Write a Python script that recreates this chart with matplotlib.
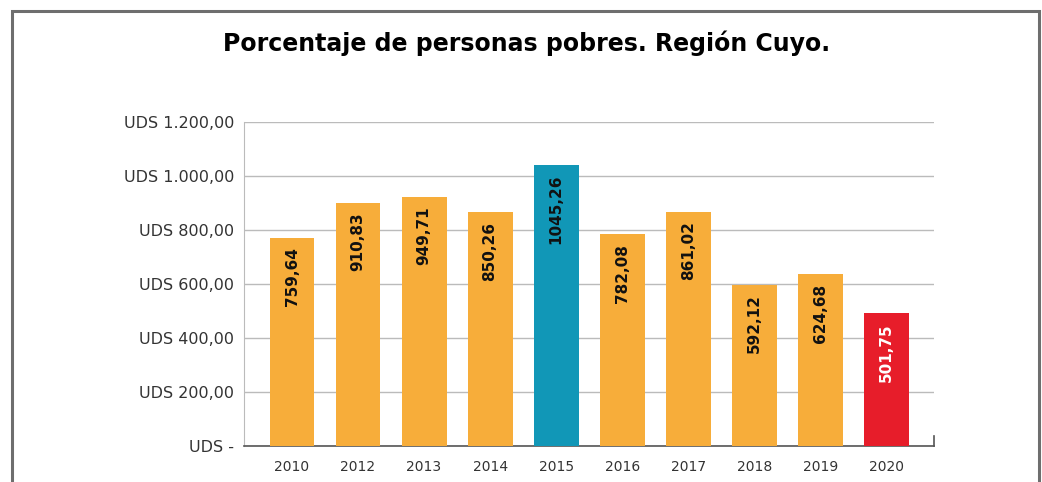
import matplotlib
matplotlib.use("Agg")
import matplotlib.pyplot as plt
from matplotlib.patches import Rectangle

years = ["2010", "2012", "2013", "2014", "2015", "2016", "2017", "2018", "2019", "2020"]
bar_heights = [770, 900, 921, 866, 1040, 784, 866, 596, 637, 490]
value_labels = ["759,64", "910,83", "949,71", "850,26", "1045,26", "782,08", "861,02", "592,12", "624,68", "501,75"]
bar_colors = ["#F7AD3A"] * 4 + ["#1197B7"] + ["#F7AD3A"] * 4 + ["#E71D2A"]
label_colors = ["#111111"] * 9 + ["#FFFFFF"]
y_ticks = [0, 200, 400, 600, 800, 1000, 1200]
y_tick_labels = ["UDS -", "UDS 200,00", "UDS 400,00", "UDS 600,00", "UDS 800,00", "UDS 1.000,00", "UDS 1.200,00"]
title = "Porcentaje de personas pobres. Región Cuyo."

plt.rcParams['font.family'] = ['DejaVu Sans']

fig = plt.figure(figsize=(10.42, 4.82), dpi=100)
W, H = 1042, 482

# outer frame
fig.patches.append(Rectangle((11.5 / W, -0.1), (1039 - 11.5) / W, 1.1 - 10.5 / H + 0.0,
                             transform=fig.transFigure, fill=False, edgecolor="#6E6E6E",
                             linewidth=2.2, zorder=0))

ax = fig.add_axes([244 / W, (H - 445.7) / H, (934 - 244) / W, (445.7 - 121.7) / H])
x = list(range(len(years)))
bars = ax.bar(x, bar_heights, width=0.68, color=bar_colors, zorder=3)

for xi, h, lab, c in zip(x, bar_heights, value_labels, label_colors):
    ax.annotate(lab, (xi, h), xytext=(0, -7), textcoords="offset points",
                rotation=90, ha="center", va="top", fontsize=11, fontweight="bold",
                color=c, zorder=4)

ax.set_xlim(-0.727, 9.723)
ax.set_ylim(0, 1200)
ax.set_yticks(y_ticks)
ax.set_yticklabels(y_tick_labels, fontsize=11.5, color="#333333")
ax.set_xticks(x)
ax.set_xticklabels(years, fontsize=10, color="#333333")
ax.tick_params(axis="y", length=0, pad=7)
ax.tick_params(axis="x", length=0, pad=10)
ax.grid(axis="y", color="#BBBBBB", linewidth=1.0, zorder=0)
for s in ["top", "right"]:
    ax.spines[s].set_visible(False)
ax.spines["left"].set_color("#BBBBBB")
ax.spines["bottom"].set_color("#555555")
ax.spines["bottom"].set_linewidth(1.2)
# small end tick at the right of the x axis
ax.plot([1, 1], [0, 0.03], transform=ax.transAxes, color="#555555", linewidth=1.2, clip_on=False)

fig.text(527 / W, 1 - 43 / H, title, ha="center", va="center", fontsize=17,
         fontweight="bold", color="#000000")

fig.savefig("out.png", dpi=100)
